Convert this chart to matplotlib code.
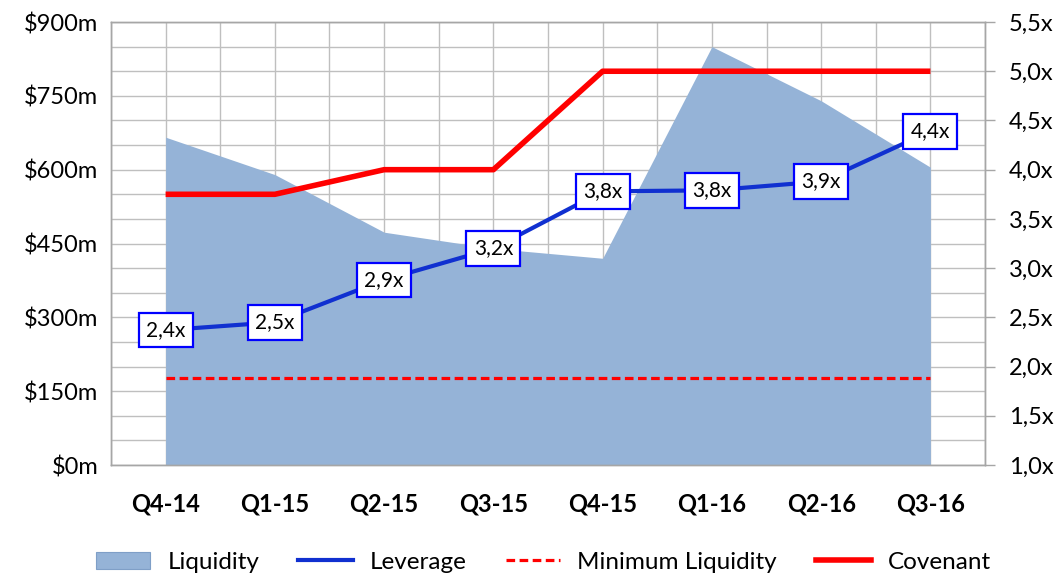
import matplotlib
matplotlib.use("Agg")
import matplotlib.pyplot as plt
from matplotlib.patches import Patch
from matplotlib.lines import Line2D
import numpy as np

plt.rcParams["font.family"] = ["Lato", "DejaVu Sans"]

quarters = ["Q4-14", "Q1-15", "Q2-15", "Q3-15", "Q4-15", "Q1-16", "Q2-16", "Q3-16"]
liquidity = [666, 590, 473, 440, 420, 850, 740, 605]
leverage = [2.37, 2.45, 2.88, 3.20, 3.78, 3.79, 3.88, 4.39]
min_liquidity = [177, 177, 177, 177, 177, 177, 177, 177]
covenant = [3.75, 3.75, 4.0, 4.0, 5.0, 5.0, 5.0, 5.0]

left_ticks = [0, 150, 300, 450, 600, 750, 900]
right_ticks = [1.0, 1.5, 2.0, 2.5, 3.0, 3.5, 4.0, 4.5, 5.0, 5.5]

area_color = "#95B3D7"
lev_color = "#1030D0"
red = "#FF0000"
grid_color = "#BFBFBF"
dash = (0, (2.7, 1.4))

fig = plt.figure(figsize=(10.61, 5.75), dpi=100)
ax = fig.add_axes([0.1046, 0.1913, 0.8238, 0.7704])
ax2 = ax.twinx()

x = np.arange(len(quarters))

ax.fill_between(x, liquidity, 0, color=area_color, linewidth=0, zorder=2)
ax.plot(x, min_liquidity, color=red, linestyle=dash, linewidth=2.3, zorder=3)

ax.set_xlim(-0.5, len(quarters) - 0.5)
ax.set_ylim(0, 900)
ax.set_xticks(x)
ax.set_xticklabels(quarters, fontsize=17, fontweight="bold")
ax.set_xticks(np.arange(-0.5, len(quarters), 1.0), minor=True)
ax.set_yticks(left_ticks)
ax.set_yticklabels(["$%dm" % v for v in left_ticks], fontsize=17)
ax.set_yticks(np.arange(0, 901, 50), minor=True)
ax.tick_params(axis="both", which="both", length=0)
ax.tick_params(axis="x", pad=20)
ax.tick_params(axis="y", pad=9)
ax.grid(True, which="both", color=grid_color, linewidth=1)
ax.set_axisbelow(True)

ax2.plot(x, covenant, color=red, linewidth=4, solid_capstyle="butt", zorder=3)
ax2.plot(x, leverage, color=lev_color, linewidth=3, zorder=4)
for xi, v in zip(x, leverage):
    ax2.annotate(("%.1fx" % v).replace(".", ","), (xi, v), ha="center", va="center",
                 fontsize=15, zorder=5,
                 bbox=dict(boxstyle="square,pad=0.35", facecolor="white",
                           edgecolor="#0000FF", linewidth=1.6))
ax2.set_ylim(1.0, 5.5)
ax2.set_yticks(right_ticks)
ax2.set_yticklabels([("%.1fx" % v).replace(".", ",") for v in right_ticks], fontsize=17)
ax2.tick_params(axis="y", length=7, width=1, color="#A6A6A6", pad=10)

for a in (ax, ax2):
    for s in a.spines.values():
        s.set_color("#A6A6A6")
        s.set_linewidth(1)

handles = [
    Patch(facecolor=area_color, edgecolor="#7F9FC7", linewidth=0.8),
    Line2D([], [], color=lev_color, linewidth=3),
    Line2D([], [], color=red, linewidth=2.3, linestyle=dash),
    Line2D([], [], color=red, linewidth=4),
]
labels = ["Liquidity", "Leverage", "Minimum Liquidity", "Covenant"]
fig.legend(handles, labels, loc="center", bbox_to_anchor=(0.512, 0.022), ncol=4,
           frameon=False, fontsize=17.5, handlelength=2.25, columnspacing=1.6,
           handletextpad=0.7)

fig.savefig("out.png", dpi=100)
